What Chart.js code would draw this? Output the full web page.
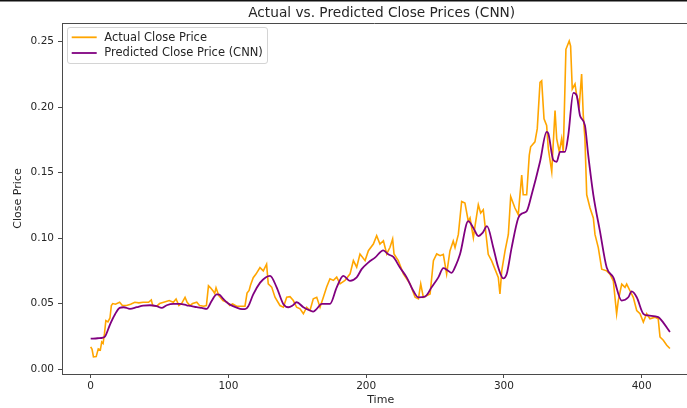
<!DOCTYPE html>
<html>
<head>
<meta charset="utf-8">
<script src="https://cdn.jsdelivr.net/npm/chart.js@4"></script>
<style>
  html, body { margin: 0; padding: 0; background: #ffffff; }
  #wrap { width: 687px; height: 408px; }
</style>
</head>
<body>
<div id="wrap"><canvas id="c" width="687" height="408"></canvas></div>
<script>
// Time steps and close prices of the actual series
const actualTime = [0, 1, 2, 4, 5.5, 7, 8, 9, 10, 11, 12.5, 14, 15, 16, 18, 21, 23, 26, 29, 32, 35, 38, 42, 44, 45, 48, 50, 53, 57, 60, 62, 64, 66, 68.5, 70, 72, 74, 77, 79, 82, 84, 85.5, 87, 89, 90, 91, 93, 94, 96, 99, 101, 103, 106, 109, 112, 113.5, 115, 116, 118, 120, 122.9, 125.3, 127.7, 128.9, 131.4, 133.8, 137.4, 139.9, 142.3, 144.7, 147.1, 149.5, 152, 154.4, 156.8, 159.2, 161.6, 164.1, 166.5, 168.9, 171.3, 173.7, 176.2, 178.6, 181, 184.6, 188.3, 190.7, 193.1, 195.5, 199.2, 201.6, 205.2, 207.6, 210, 212.5, 214.9, 217.3, 219.2, 220.2, 223.3, 227, 231.8, 235.5, 237.9, 239.6, 241.5, 246.4, 248.8, 251.2, 253.7, 256, 258.4, 260.8, 263.2, 264.5, 266.9, 269.3, 271.7, 274.1, 275.4, 277.8, 279, 281.4, 283.1, 285, 286.2, 288.6, 291.1, 293.5, 295.9, 297.1, 298.4, 300.8, 303.2, 304.9, 308, 310.4, 312.9, 314, 316.5, 318.4, 319.4, 322.5, 324.2, 326.2, 327.4, 329.1, 331, 332.2, 334.7, 337.1, 338.3, 340.2, 341.9, 343.1, 345, 347.4, 348.4, 349.6, 351.6, 352.8, 354.7, 356.4, 357.6, 358.8, 360.1, 362.5, 364.9, 366.1, 368.5, 371, 374.6, 377, 379.4, 381.8, 383, 385.5, 387.9, 389.1, 391.5, 393.9, 396.4, 398.8, 401.2, 403.6, 406, 409.7, 412, 413.3, 415.7, 418.2, 420.5];
const actualPrice = [0.0169, 0.015, 0.0093, 0.0095, 0.0154, 0.0145, 0.0207, 0.0195, 0.027, 0.037, 0.036, 0.039, 0.0485, 0.050, 0.0495, 0.051, 0.0485, 0.0485, 0.0495, 0.051, 0.0505, 0.051, 0.051, 0.0528, 0.0485, 0.048, 0.050, 0.051, 0.0523, 0.051, 0.0535, 0.0485, 0.050, 0.0548, 0.051, 0.0485, 0.050, 0.051, 0.0485, 0.048, 0.0485, 0.0636, 0.062, 0.0595, 0.0577, 0.062, 0.056, 0.0548, 0.0523, 0.051, 0.0485, 0.0497, 0.048, 0.048, 0.048, 0.058, 0.060, 0.064, 0.0698, 0.0725, 0.0775, 0.075, 0.0801, 0.0651, 0.0626, 0.0548, 0.0485, 0.0472, 0.0548, 0.0553, 0.0523, 0.0472, 0.046, 0.0422, 0.0472, 0.0447, 0.0536, 0.0548, 0.0472, 0.0548, 0.0626, 0.0689, 0.0677, 0.0702, 0.0651, 0.0677, 0.0727, 0.0828, 0.0778, 0.0879, 0.0828, 0.0904, 0.0955, 0.1018, 0.0955, 0.098, 0.0879, 0.093, 0.0993, 0.0879, 0.0828, 0.0727, 0.0651, 0.0548, 0.0536, 0.0651, 0.0548, 0.0573, 0.0828, 0.0879, 0.0866, 0.0876, 0.0725, 0.0902, 0.0977, 0.0927, 0.1028, 0.128, 0.1268, 0.1129, 0.1154, 0.1003, 0.1091, 0.1255, 0.1192, 0.1217, 0.1104, 0.0876, 0.0826, 0.0763, 0.070, 0.0573, 0.075, 0.0902, 0.1028, 0.1318, 0.123, 0.118, 0.1482, 0.1331, 0.1331, 0.1634, 0.1697, 0.1735, 0.1836, 0.2189, 0.2202, 0.1912, 0.1861, 0.1684, 0.1508, 0.1975, 0.176, 0.1659, 0.176, 0.1659, 0.2442, 0.2505, 0.2467, 0.2139, 0.2177, 0.2088, 0.2013, 0.2253, 0.1937, 0.176, 0.1331, 0.123, 0.1154, 0.1028, 0.0927, 0.0763, 0.075, 0.0725, 0.0674, 0.0422, 0.0523, 0.0649, 0.0624, 0.0649, 0.0598, 0.0548, 0.0447, 0.0422, 0.0359, 0.0422, 0.0384, 0.0396, 0.0384, 0.0245, 0.022, 0.0182, 0.0157];

// Time steps and close prices predicted by the CNN
const predTime = [0, 5, 9, 10.5, 14, 17.6, 21, 24, 28.5, 33.4, 38.2, 43, 47.9, 51.5, 55.2, 60, 64.8, 69.7, 73.3, 77, 80.6, 84.2, 87.8, 91.5, 93.4, 96.3, 99.9, 103.5, 108.4, 112, 114.4, 118, 123, 127, 130.2, 135, 139.8, 143.5, 146.5, 149.5, 154.4, 159.2, 161.6, 164.1, 167.7, 173.7, 178.6, 183.4, 188.2, 193.1, 196.7, 201.5, 206.4, 212.4, 216, 219.7, 224.5, 229.4, 234.2, 237.8, 242.7, 247.5, 252.4, 256, 259, 262, 265, 268.1, 274.1, 277.8, 281.4, 284.5, 287.7, 292.3, 295.9, 299.5, 302, 305.6, 310.4, 314, 316.5, 320.1, 326.2, 331, 332.2, 335.8, 338.3, 340.7, 344.3, 346.7, 350.4, 352.8, 355.2, 358.8, 361.2, 364.9, 369.7, 374.6, 379.4, 385.5, 390.3, 392.7, 396.4, 401.2, 404.8, 412, 414.4, 420.5];
const predPrice = [0.0232, 0.0235, 0.024, 0.025, 0.034, 0.0417, 0.0467, 0.0472, 0.046, 0.0472, 0.0485, 0.0487, 0.048, 0.0467, 0.0487, 0.0497, 0.0497, 0.0487, 0.048, 0.0472, 0.0467, 0.046, 0.052, 0.057, 0.0568, 0.0535, 0.050, 0.048, 0.046, 0.0457, 0.048, 0.057, 0.066, 0.070, 0.0712, 0.0624, 0.0497, 0.0472, 0.0485, 0.051, 0.0472, 0.0447, 0.0439, 0.046, 0.0497, 0.0497, 0.0624, 0.0712, 0.0674, 0.070, 0.0763, 0.0813, 0.0851, 0.0907, 0.0876, 0.0856, 0.0775, 0.070, 0.0598, 0.0548, 0.0553, 0.0624, 0.070, 0.077, 0.0755, 0.0735, 0.079, 0.0876, 0.1129, 0.1078, 0.1015, 0.104, 0.1091, 0.0927, 0.0775, 0.0692, 0.0725, 0.0927, 0.1154, 0.1192, 0.1205, 0.1331, 0.1583, 0.1811, 0.18, 0.1596, 0.1583, 0.1659, 0.1659, 0.1785, 0.211, 0.209, 0.1937, 0.1861, 0.1634, 0.1331, 0.1053, 0.0775, 0.070, 0.0523, 0.0548, 0.0593, 0.0548, 0.0422, 0.0409, 0.0396, 0.0371, 0.0283];

// Axis ticks
const xTicks = [0, 100, 200, 300, 400];
const yTicks = [0.00, 0.05, 0.10, 0.15, 0.20, 0.25];

const seriesLabels = ['Actual Close Price', 'Predicted Close Price (CNN)'];
const seriesColors = ['#ffa500', '#800080'];

const FONT = '"DejaVu Sans", "Liberation Sans", sans-serif';
const TEXT = '#262626';
const SPINE = '#4a4a4a';

const toPoints = (xs, ys) => xs.map((x, i) => ({ x: x, y: ys[i] }));

// Title, axis labels, legend and frame lines
const decor = {
  id: 'decor',
  beforeDraw(chart) {
    const ctx = chart.ctx;
    ctx.save();
    ctx.fillStyle = '#ffffff';
    ctx.fillRect(0, 0, chart.width, chart.height);
    ctx.restore();
  },
  afterDraw(chart) {
    const ctx = chart.ctx;
    const a = chart.chartArea;
    ctx.save();

    // thin dark strip along the top edge
    ctx.fillStyle = '#111111';
    ctx.fillRect(0, 0, chart.width, 1.5);

    // top spine
    ctx.strokeStyle = SPINE;
    ctx.lineWidth = 1;
    ctx.beginPath();
    ctx.moveTo(a.left, a.top + 0.5);
    ctx.lineTo(a.right, a.top + 0.5);
    ctx.stroke();

    // title
    ctx.fillStyle = TEXT;
    ctx.textAlign = 'center';
    ctx.textBaseline = 'middle';
    ctx.font = '13.7px ' + FONT;
    ctx.fillText('Actual vs. Predicted Close Prices (CNN)', 381.7, 13);

    // axis labels
    ctx.font = '11px ' + FONT;
    ctx.fillText('Time', 380.7, 400.5);
    ctx.save();
    ctx.translate(17.7, (a.top + a.bottom) / 2);
    ctx.rotate(-Math.PI / 2);
    ctx.fillText('Close Price', 0, 0);
    ctx.restore();

    // legend
    const lx = 67.5, ly = 27.5, lw = 200, lh = 36, r = 2.5;
    ctx.fillStyle = 'rgba(255,255,255,0.8)';
    ctx.strokeStyle = '#d4d4d4';
    ctx.lineWidth = 1;
    ctx.beginPath();
    ctx.moveTo(lx + r, ly);
    ctx.lineTo(lx + lw - r, ly);
    ctx.quadraticCurveTo(lx + lw, ly, lx + lw, ly + r);
    ctx.lineTo(lx + lw, ly + lh - r);
    ctx.quadraticCurveTo(lx + lw, ly + lh, lx + lw - r, ly + lh);
    ctx.lineTo(lx + r, ly + lh);
    ctx.quadraticCurveTo(lx, ly + lh, lx, ly + lh - r);
    ctx.lineTo(lx, ly + r);
    ctx.quadraticCurveTo(lx, ly, lx + r, ly);
    ctx.closePath();
    ctx.fill();
    ctx.stroke();

    const rows = [37.3, 53];
    ctx.font = '11.5px ' + FONT;
    ctx.textAlign = 'left';
    ctx.textBaseline = 'middle';
    rows.forEach((yy, i) => {
      ctx.strokeStyle = seriesColors[i];
      ctx.lineWidth = 1.8;
      ctx.beginPath();
      ctx.moveTo(71.7, yy);
      ctx.lineTo(96.7, yy);
      ctx.stroke();
      ctx.fillStyle = TEXT;
      ctx.fillText(seriesLabels[i], 104.3, yy + 0.5);
    });

    ctx.restore();
  }
};

new Chart(document.getElementById('c'), {
  type: 'line',
  data: {
    datasets: [
      {
        label: seriesLabels[0],
        data: toPoints(actualTime, actualPrice),
        borderColor: seriesColors[0],
        backgroundColor: seriesColors[0],
        borderWidth: 1.6,
        pointRadius: 0,
        tension: 0,
        fill: false,
        order: 1
      },
      {
        label: seriesLabels[1],
        data: toPoints(predTime, predPrice),
        borderColor: seriesColors[1],
        backgroundColor: seriesColors[1],
        borderWidth: 1.8,
        pointRadius: 0,
        cubicInterpolationMode: 'monotone',
        fill: false,
        order: 0
      }
    ]
  },
  options: {
    responsive: false,
    animation: false,
    devicePixelRatio: 1,
    layout: { padding: { top: 23, left: 0, right: 0, bottom: 0 } },
    plugins: {
      legend: { display: false },
      title: { display: false },
      tooltip: { enabled: false }
    },
    scales: {
      x: {
        type: 'linear',
        min: -20.83,
        max: 432.9,
        afterFit(scale) { scale.height = 34; },
        afterBuildTicks(scale) { scale.ticks = xTicks.map(v => ({ value: v })); },
        border: { display: true, color: SPINE, width: 1 },
        grid: { display: true, drawOnChartArea: false, drawTicks: true, tickLength: 4, color: SPINE },
        ticks: {
          color: TEXT,
          font: { family: FONT, size: 10.5 },
          padding: 2,
          maxRotation: 0,
          callback: v => String(v)
        }
      },
      y: {
        type: 'linear',
        min: -0.0038,
        max: 0.2643,
        afterFit(scale) { scale.width = 62; },
        afterBuildTicks(scale) { scale.ticks = yTicks.map(v => ({ value: v })); },
        border: { display: true, color: SPINE, width: 1 },
        grid: { display: true, drawOnChartArea: false, drawTicks: true, tickLength: 4, color: SPINE },
        ticks: {
          color: TEXT,
          font: { family: FONT, size: 10.5 },
          padding: 4,
          callback: v => Number(v).toFixed(2)
        }
      }
    }
  },
  plugins: [decor]
});
</script>
</body>
</html>
